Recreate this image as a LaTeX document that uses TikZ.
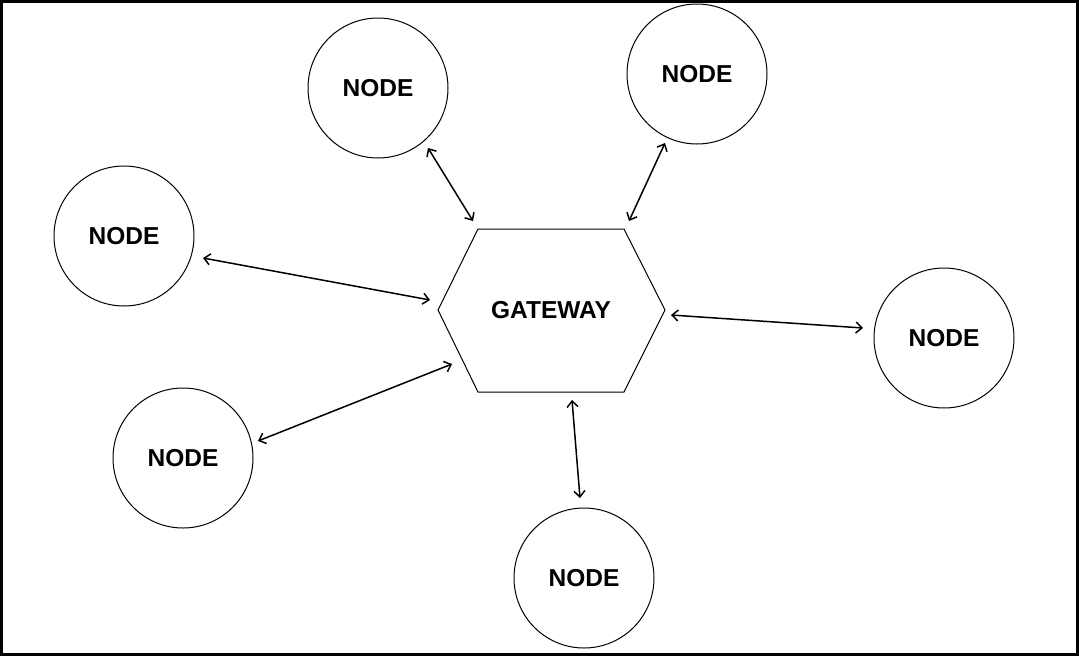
\documentclass[tikz,border=0pt]{standalone}
\usepackage{fontspec}
\setmainfont{Liberation Sans}
\usetikzlibrary{arrows.meta}
\begin{document}
\begin{tikzpicture}[x=1pt,y=-1pt,
  nodecircle/.style={draw,line width=1pt,circle,minimum size=140pt,inner sep=0pt,font=\fontsize{24.5}{27}\selectfont\bfseries},
  link/.style={line width=1.5pt,{Straight Barb[length=6pt,width=11pt]}-{Straight Barb[length=6pt,width=11pt]}}]
\useasboundingbox (0,0) rectangle (1079,656);
\draw[line width=3pt] (1.5,1.5) rectangle (1077,654);
\draw[line width=1pt] (478,229) -- (624,229) -- (665,310) -- (624,392) -- (478,392) -- (438,310) -- cycle;
\node[font=\fontsize{24.5}{27}\selectfont\bfseries] (gw) at (551,310) {GATEWAY};
\coordinate (g1) at (473,221);
\coordinate (g2) at (629,221);
\coordinate (g3) at (430,300);
\coordinate (g4) at (671,315);
\coordinate (g5) at (452,364);
\coordinate (g6) at (572,400);
\node[nodecircle] (n1) at (378,88) {NODE};
\node[nodecircle] (n2) at (697,74) {NODE};
\node[nodecircle] (n3) at (124,236) {NODE};
\node[nodecircle] (n4) at (944,338) {NODE};
\node[nodecircle] (n5) at (183,458) {NODE};
\node[nodecircle] (n6) at (584,578) {NODE};
\coordinate (e1) at (428,148);
\coordinate (e2) at (665,143);
\coordinate (e3) at (203,258);
\coordinate (e4) at (863,328);
\coordinate (e5) at (258,441);
\coordinate (e6) at (580,498);
\draw[link] (e1) -- (g1);
\draw[link] (e2) -- (g2);
\draw[link] (e3) -- (g3);
\draw[link] (g4) -- (e4);
\draw[link] (e5) -- (g5);
\draw[link] (g6) -- (e6);
\end{tikzpicture}
\end{document}
